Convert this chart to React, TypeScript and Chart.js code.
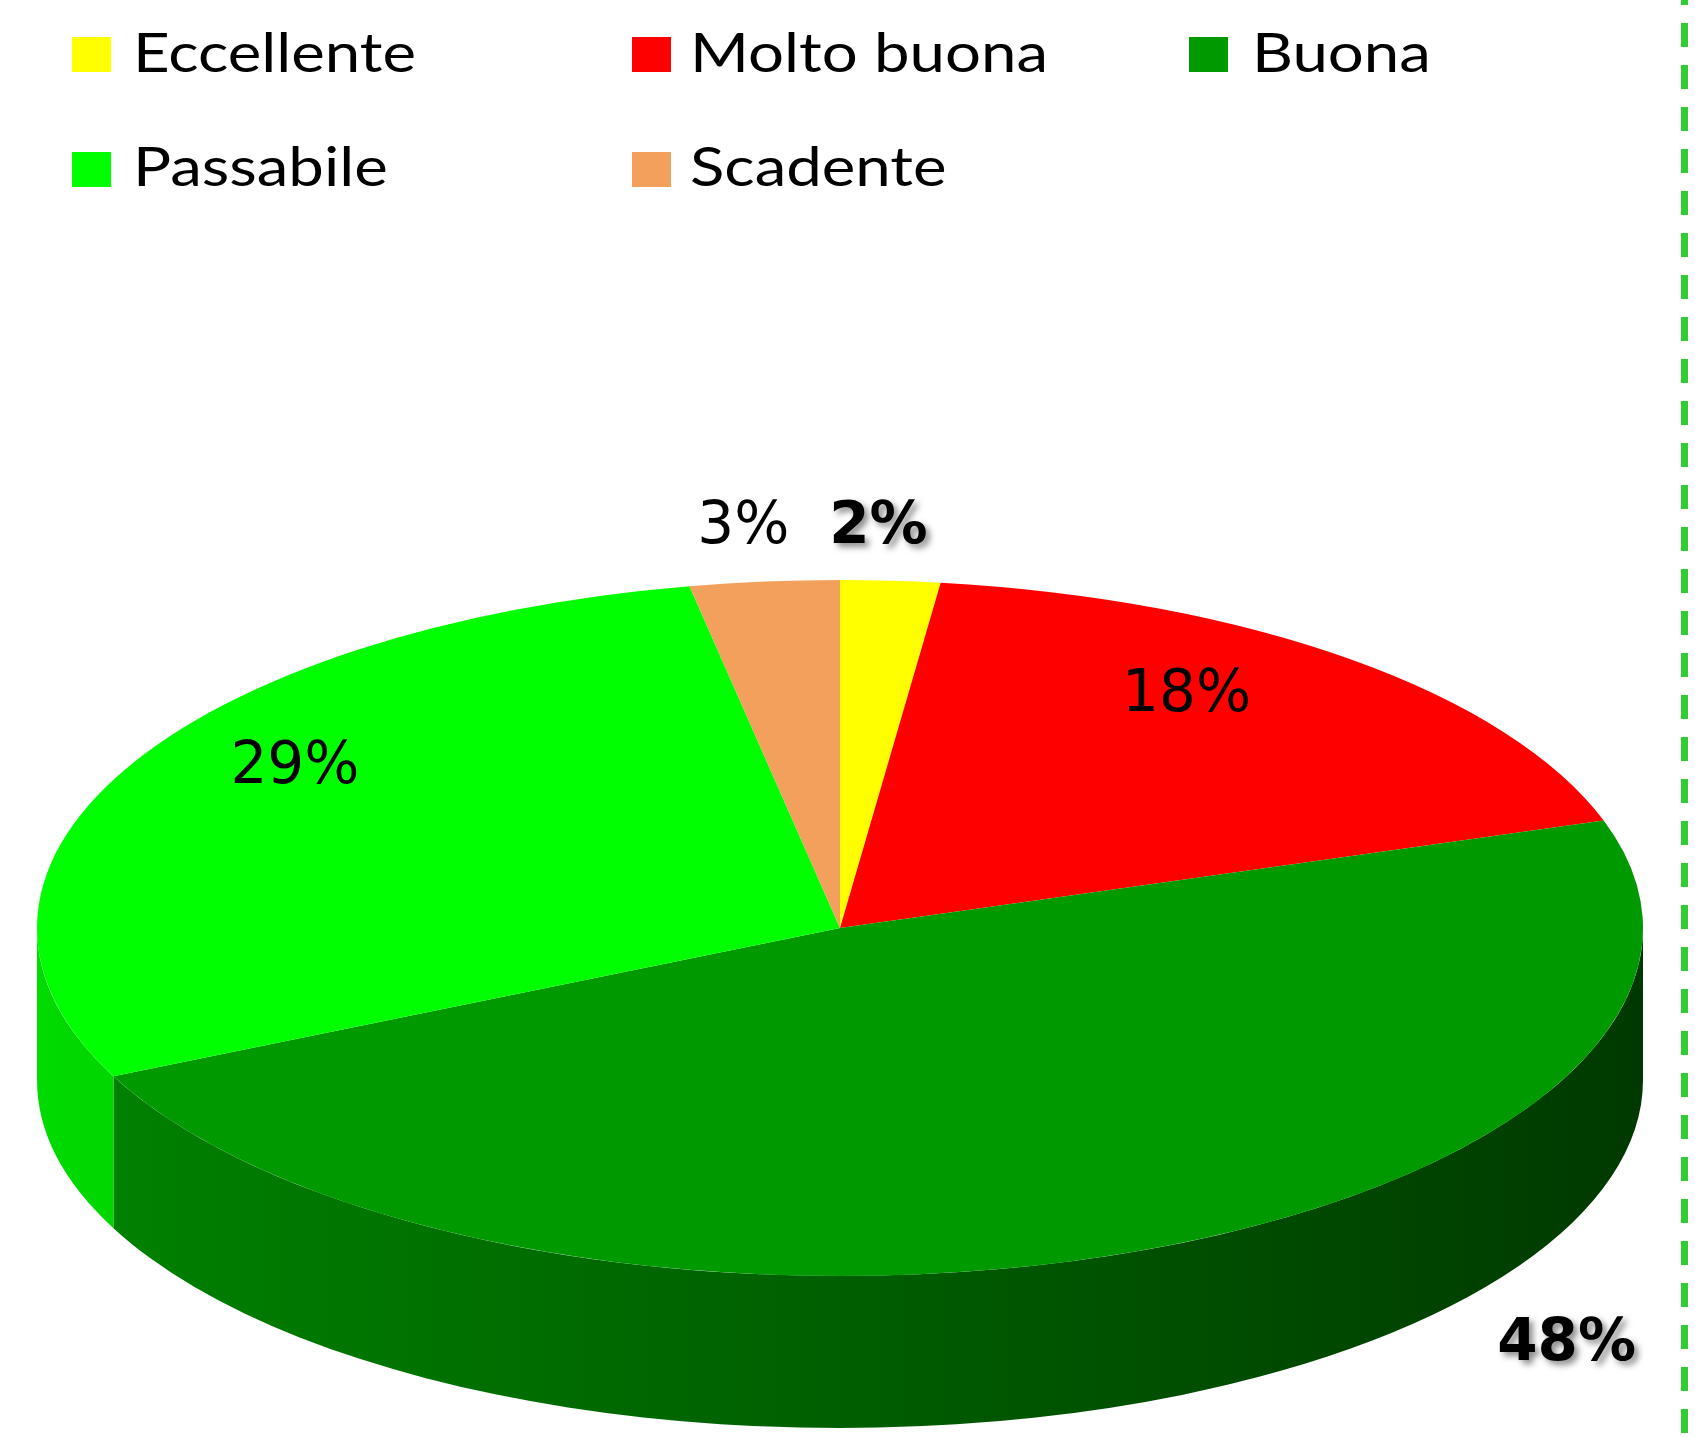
import React, { useEffect, useRef } from "react";
import { Chart, registerables } from "chart.js";

Chart.register(...registerables);

// ---------- data ----------
const categories = ["Eccellente", "Molto buona", "Buona", "Passabile", "Scadente"];
const percentages = [2, 18, 48, 29, 3];
const sliceColors = ["#FFFF00", "#FF0000", "#009900", "#00FF00", "#F2A05B"];

// ---------- layout ----------
const W = 1695;
const H = 1437;
const PIE = { cx: 840, cy: 928, rx: 803, ry: 348, depth: 152 };
const LABEL_LAYOUT = [
  { f: 1.16, dx: -20, dy: -3, bold: true },
  { f: 0.72, dx: -22, dy: -45, bold: false },
  { f: 1.0, dx: 431, dy: 87, bold: true },
  { f: 0.72, dx: -30, dy: -52, bold: false },
  { f: 1.16, dx: -9, dy: -4, bold: false },
];
const LEGEND = {
  squareX: [72, 632, 1189],
  textX: [133, 690, 1252],
  squareY: [37, 152],
  baseline: [72, 186],
  sqW: 39,
  sqH: 35,
  font: '54px Lato, "Open Sans", sans-serif',
  refText: "Eccellente",
  refWidth: 283,
};
const LABEL_FONT_SIZE = 58;

function hexToRgb(hex: string): number[] {
  const h = hex.replace("#", "");
  return [0, 2, 4].map((i) => parseInt(h.slice(i, i + 2), 16));
}
function shade(hex: string, k: number): string {
  const [r, g, b] = hexToRgb(hex);
  return `rgb(${Math.round(r * k)},${Math.round(g * k)},${Math.round(b * k)})`;
}

const pie3d = {
  id: "pie3d",
  beforeDatasetsDraw(chart: any) {
    const ctx: CanvasRenderingContext2D = chart.ctx;
    const arcs = chart.getDatasetMeta(0).data as any[];
    if (!arcs.length) return;
    const { cx, cy, rx, ry, depth } = PIE;
    arcs.forEach((arc, i) => {
      const { startAngle, endAngle } = arc.getProps(["startAngle", "endAngle"], true);
      const a = Math.max(startAngle, 0);
      const b = Math.min(endAngle, Math.PI);
      if (b <= a) return;
      const grad = ctx.createLinearGradient(cx - rx, 0, cx + rx, 0);
      grad.addColorStop(0, shade(sliceColors[i], 0.86));
      grad.addColorStop(1, shade(sliceColors[i], 0.37));
      ctx.beginPath();
      ctx.ellipse(cx, cy, rx, ry, 0, a, b, false);
      ctx.ellipse(cx, cy + depth, rx, ry, 0, b, a, true);
      ctx.closePath();
      ctx.fillStyle = grad;
      ctx.fill();
    });
    const { x, y, outerRadius } = arcs[0].getProps(["x", "y", "outerRadius"], true);
    ctx.save();
    ctx.translate(cx, cy);
    ctx.scale(rx / outerRadius, ry / outerRadius);
    ctx.translate(-x, -y);
  },
  afterDatasetsDraw(chart: any) {
    const ctx: CanvasRenderingContext2D = chart.ctx;
    ctx.restore();
    const arcs = chart.getDatasetMeta(0).data as any[];
    const { cx, cy, rx, ry } = PIE;
    const total = percentages.reduce((s, v) => s + v, 0);

    // percentage labels
    arcs.forEach((arc, i) => {
      const { startAngle, endAngle } = arc.getProps(["startAngle", "endAngle"], true);
      const mid = (startAngle + endAngle) / 2;
      const L = LABEL_LAYOUT[i];
      const px = cx + rx * L.f * Math.cos(mid) + L.dx;
      const py = cy + ry * L.f * Math.sin(mid) + L.dy;
      const text = Math.round((percentages[i] / total) * 100) + "%";
      ctx.save();
      ctx.font = `${L.bold ? "bold " : ""}${LABEL_FONT_SIZE}px "DejaVu Sans", sans-serif`;
      ctx.textAlign = "center";
      ctx.textBaseline = "alphabetic";
      if (L.bold) {
        ctx.shadowColor = "rgba(0,0,0,0.45)";
        ctx.shadowBlur = 6;
        ctx.shadowOffsetX = 4;
        ctx.shadowOffsetY = 4;
      }
      ctx.fillStyle = "#000";
      ctx.fillText(text, px, py + (LABEL_FONT_SIZE * 0.729) / 2);
      ctx.restore();
    });

    // legend
    ctx.save();
    ctx.font = LEGEND.font;
    const stretch = LEGEND.refWidth / ctx.measureText(LEGEND.refText).width;
    categories.forEach((name, i) => {
      const col = i % 3;
      const row = Math.floor(i / 3);
      ctx.fillStyle = sliceColors[i];
      ctx.fillRect(LEGEND.squareX[col], LEGEND.squareY[row], LEGEND.sqW, LEGEND.sqH);
      ctx.save();
      ctx.translate(LEGEND.textX[col], LEGEND.baseline[row]);
      ctx.scale(stretch, 1);
      ctx.fillStyle = "#000";
      ctx.textAlign = "left";
      ctx.textBaseline = "alphabetic";
      ctx.fillText(name, 0, 0);
      ctx.restore();
    });
    ctx.restore();

    // dashed frame border on the right
    ctx.save();
    ctx.strokeStyle = "#32CD32";
    ctx.lineWidth = 7;
    ctx.setLineDash([24, 18]);
    ctx.beginPath();
    ctx.moveTo(1684.5, -19);
    ctx.lineTo(1684.5, H);
    ctx.stroke();
    ctx.restore();
  },
};

export default function App() {
  const ref = useRef<HTMLCanvasElement | null>(null);
  useEffect(() => {
    if (!ref.current) return;
    const chart = new Chart(ref.current, {
      type: "pie",
      data: {
        labels: categories,
        datasets: [
          {
            data: percentages,
            backgroundColor: sliceColors,
            borderWidth: 0,
            clip: false as any,
          },
        ],
      },
      options: {
        responsive: false,
        animation: false,
        devicePixelRatio: 1,
        layout: { padding: 0 },
        plugins: {
          legend: { display: false },
          tooltip: { enabled: false },
        },
      },
      plugins: [pie3d as any],
    });
    return () => chart.destroy();
  }, []);
  return (
    <canvas
      ref={ref}
      width={W}
      height={H}
      style={{ position: "absolute", left: 0, top: 0, display: "block", width: W, height: H }}
    />
  );
}
